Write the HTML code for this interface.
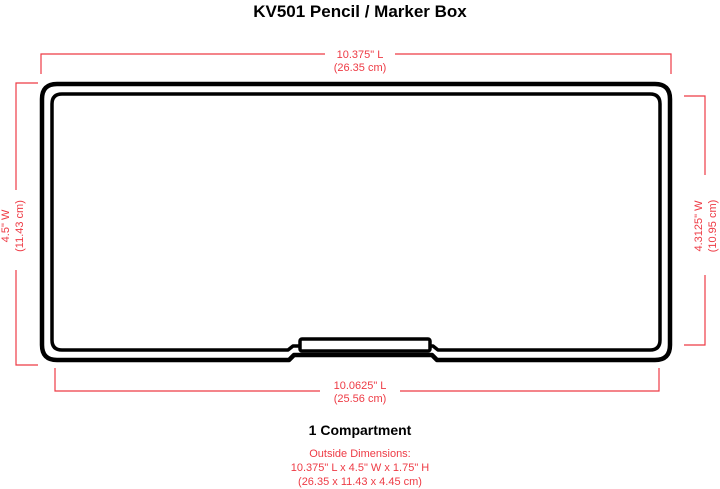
<!DOCTYPE html>
<html><head><style>
body{margin:0;background:#fff;}
svg{display:block;}
</style></head><body>
<svg width="720" height="489" viewBox="0 0 720 489" xmlns="http://www.w3.org/2000/svg" font-family="Liberation Sans, Arial, sans-serif">
<text x="360" y="17" text-anchor="middle" font-size="17" font-weight="bold" fill="#000">KV501 Pencil / Marker Box</text>
<g stroke="#ee3b45" stroke-width="1.2" fill="none">
<polyline points="41,74 41,54 671,54 671,74"/>
<polyline points="38,83 16,83 16,365 38,365"/>
<polyline points="684,96 705,96 705,345 684,345"/>
<polyline points="55,368 55,391 659,391 659,368"/>
</g>
<rect x="325" y="46" width="70" height="26" fill="#fff"/>
<rect x="8" y="190" width="20" height="80" fill="#fff"/>
<rect x="694" y="175" width="22" height="100" fill="#fff"/>
<rect x="320" y="383" width="80" height="26" fill="#fff"/>
<g fill="#ee3b45" font-size="11" text-anchor="middle">
<text x="360" y="58">10.375" L</text>
<text x="360" y="71">(26.35 cm)</text>
<text x="360" y="389">10.0625" L</text>
<text x="360" y="402">(25.56 cm)</text>
<text transform="translate(9,226) rotate(-90)">4.5" W</text>
<text transform="translate(23,226) rotate(-90)">(11.43 cm)</text>
<text transform="translate(702,226) rotate(-90)">4.3125" W</text>
<text transform="translate(716,226) rotate(-90)">(10.95 cm)</text>
<text x="360" y="457">Outside Dimensions:</text>
<text x="360" y="471">10.375" L x 4.5" W x 1.75" H</text>
<text x="360" y="485">(26.35 x 11.43 x 4.45 cm)</text>
</g>
<text x="360" y="435" text-anchor="middle" font-size="14" font-weight="bold" fill="#000">1 Compartment</text>
<g stroke="#000" fill="none" stroke-linejoin="round">
<path d="M57,84 H655 Q670,84 670,99 V345 Q670,360 655,360 H437 L432,355 H294 L289,360 H57 Q42,360 42,345 V99 Q42,84 57,84 Z" stroke-width="4.5"/>
<path d="M62,94 H650 Q660,94 660,104 V340 Q660,350 650,350 H438 L433,346 H293 L288,350 H62 Q52,350 52,340 V104 Q52,94 62,94 Z" stroke-width="3.5"/>
<rect x="300" y="339" width="130" height="12" rx="2" stroke-width="3.5" fill="#fff"/>
</g>
</svg>
</body></html>
